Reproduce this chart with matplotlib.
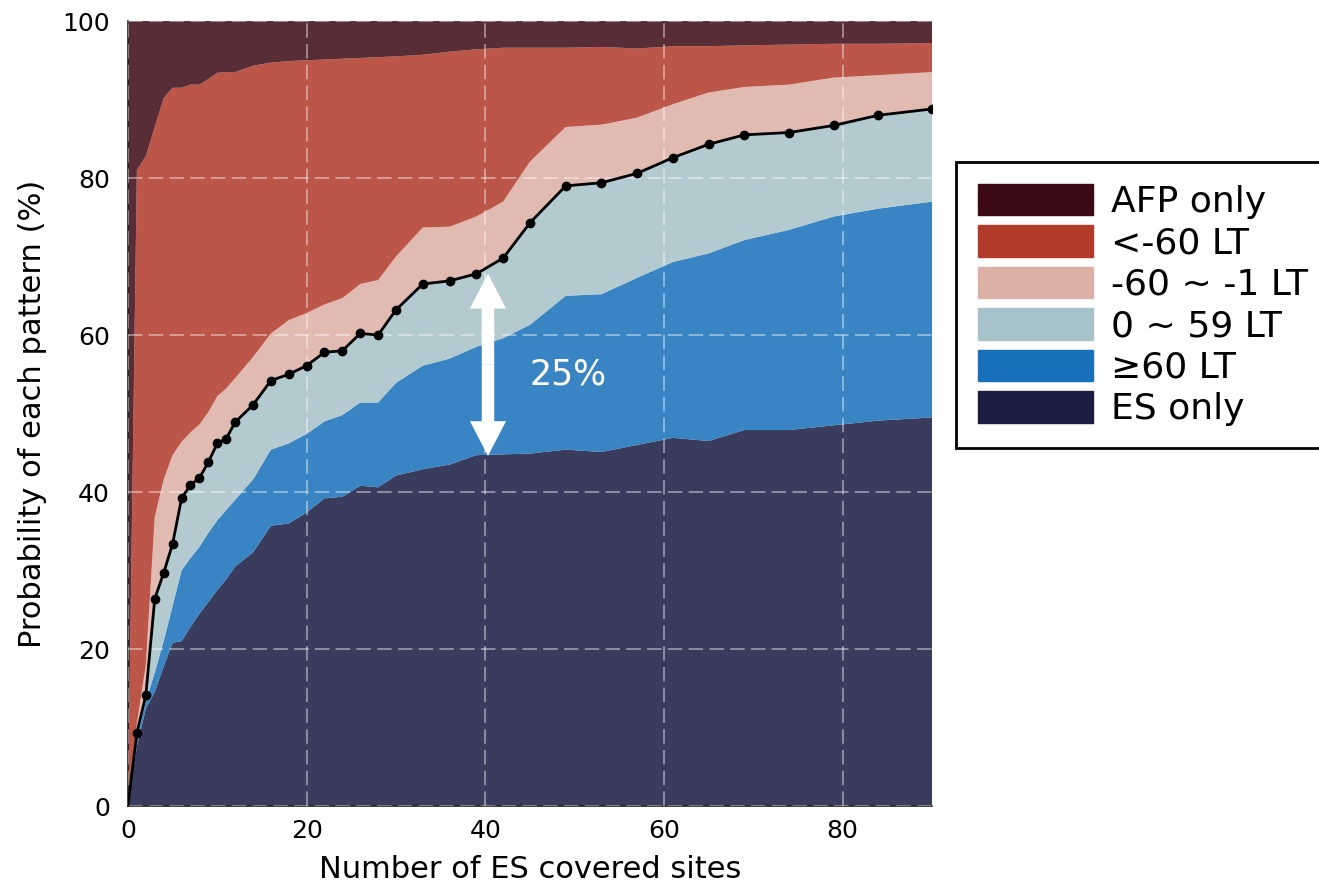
import numpy as np
import matplotlib
matplotlib.use('Agg')
import matplotlib.pyplot as plt
from matplotlib.patches import Patch

# number of ES covered sites
sites = [0, 1, 2, 3, 4, 5, 6, 7, 8, 9, 10, 11, 12, 14, 16, 18, 20, 22, 24, 26, 28, 30,
         33, 36, 39, 42, 45, 49, 53, 57, 61, 65, 69, 74, 79, 84, 90]

# probability of each pattern (%)
es_only = [0, 7.6, 12.4, 14.5, 17.8, 20.8, 21.0, 22.8, 24.5, 26.0, 27.5, 28.9, 30.5, 32.3,
           35.7, 36.0, 37.4, 39.2, 39.4, 40.8, 40.6, 42.1, 42.9, 43.5, 44.7, 44.8, 44.9,
           45.4, 45.1, 46.0, 46.9, 46.5, 47.9, 47.9, 48.5, 49.1, 49.5]
lt_ge60 = [0, 0.9, 0.9, 2.5, 3.2, 4.7, 9.0, 8.8, 8.5, 8.8, 8.9, 8.8, 8.5, 9.3,
           9.7, 10.2, 10.0, 9.8, 10.4, 10.6, 10.8, 11.8, 13.2, 13.5, 13.8, 14.8, 16.4,
           19.6, 20.1, 21.3, 22.4, 23.9, 24.2, 25.5, 26.6, 27.0, 27.5]
lt_0_59 = [0, 0.8, 0.8, 9.4, 8.7, 7.9, 9.2, 9.3, 8.8, 9.0, 9.8, 9.1, 9.9, 9.5,
           8.8, 8.8, 8.7, 8.8, 8.2, 8.8, 8.6, 9.3, 10.4, 9.9, 9.3, 10.2, 13.0,
           14.0, 14.2, 13.3, 13.3, 13.9, 13.4, 12.4, 11.6, 11.9, 11.8]
lt_m60_m1 = [0, 1.2, 3.9, 10.4, 11.9, 11.3, 7.2, 6.7, 6.8, 6.4, 6.0, 6.4, 5.6, 6.1,
             6.0, 6.9, 6.7, 6.1, 6.7, 6.3, 7.0, 6.8, 7.2, 6.9, 7.3, 7.2, 7.8,
             7.5, 7.4, 7.1, 6.8, 6.6, 6.1, 6.1, 6.1, 5.1, 4.7]
lt_lt_m60 = [0, 70.5, 64.8, 49.7, 48.6, 46.8, 45.1, 44.3, 43.3, 42.4, 41.2, 40.3, 39.0, 37.1,
             34.5, 33.0, 32.2, 31.2, 30.5, 28.8, 28.4, 25.5, 22.0, 22.3, 21.3, 19.6, 14.5,
             10.1, 9.9, 8.8, 7.4, 5.9, 5.3, 5.1, 4.3, 4.0, 3.7]
afp_only = [100, 19.0, 17.2, 13.5, 9.8, 8.5, 8.5, 8.1, 8.1, 7.4, 6.6, 6.5, 6.5, 5.7,
            5.3, 5.1, 5.0, 4.9, 4.8, 4.7, 4.6, 4.5, 4.3, 3.9, 3.6, 3.4, 3.4,
            3.4, 3.3, 3.5, 3.2, 3.2, 3.1, 3.0, 2.9, 2.9, 2.8]

labels = ['ES only', '≥60 LT', '0 ~ 59 LT', '-60 ~ -1 LT', '<-60 LT', 'AFP only']
colors = ['#1a1c42', '#1870ba', '#a8c2ca', '#dcb0a5', '#b13a2a', '#3c0a14']

# ES detected no later than AFP (top of the 0 ~ 59 LT band)
es_first = np.array(es_only) + np.array(lt_ge60) + np.array(lt_0_59)

fig = plt.figure(figsize=(13.19, 8.84), dpi=100)
ax = fig.add_axes([0.097, 0.0882, 0.6096, 0.888])

ax.stackplot(sites, es_only, lt_ge60, lt_0_59, lt_m60_m1, lt_lt_m60, afp_only,
             colors=colors, alpha=0.86, linewidth=1, edgecolor=None)
ax.plot(sites, es_first, color='black', lw=2, marker='o', markersize=6,
        markevery=list(range(1, len(sites))), zorder=3)

# 25% annotation arrow
arrow_x = 40.3
arrow_lo, arrow_hi = 44.6, 67.8
arrow_mid = (arrow_lo + arrow_hi) / 2
for tip in (arrow_lo, arrow_hi):
    ax.annotate('', xy=(arrow_x, tip), xytext=(arrow_x, arrow_mid),
                arrowprops=dict(arrowstyle='simple,head_width=1.3,head_length=1.25,tail_width=0.45',
                                mutation_scale=20, color='white', lw=0, shrinkA=0, shrinkB=0),
                zorder=4)
ax.text(49.3, 55.0, '25%', color='white', fontsize=25, ha='center', va='center', zorder=4)

ax.set_xlim(0, 90)
ax.set_ylim(0, 100)
ax.set_xticks([0, 20, 40, 60, 80])
ax.set_yticks([0, 20, 40, 60, 80, 100])
ax.tick_params(labelsize=18, length=0)
ax.tick_params(axis='x', pad=9)
ax.tick_params(axis='y', pad=13)
ax.set_xlabel('Number of ES covered sites', fontsize=22, labelpad=9)
ax.set_ylabel('Probability of each pattern (%)', fontsize=22, labelpad=11)

ax.set_axisbelow(False)
ax.grid(True, color='white', alpha=0.45, lw=1.3, linestyle=(0, (8, 3.5)))
for side in ['top', 'right']:
    ax.spines[side].set_visible(False)
for side in ['left', 'bottom']:
    ax.spines[side].set_color('#222222')
    ax.spines[side].set_linewidth(1.2)

handles = [Patch(facecolor=c, edgecolor=c, label=l) for c, l in zip(colors[::-1], labels[::-1])]
leg = ax.legend(handles=handles, loc='center left', bbox_to_anchor=(1.03, 0.638),
                borderaxespad=0, fontsize=26, frameon=True, fancybox=False, edgecolor='black',
                framealpha=1, handlelength=3.2, handleheight=0.95, labelspacing=0.18,
                handletextpad=0.5, borderpad=0.6)
leg.get_frame().set_linewidth(2)

fig.savefig('out.png', dpi=100)
